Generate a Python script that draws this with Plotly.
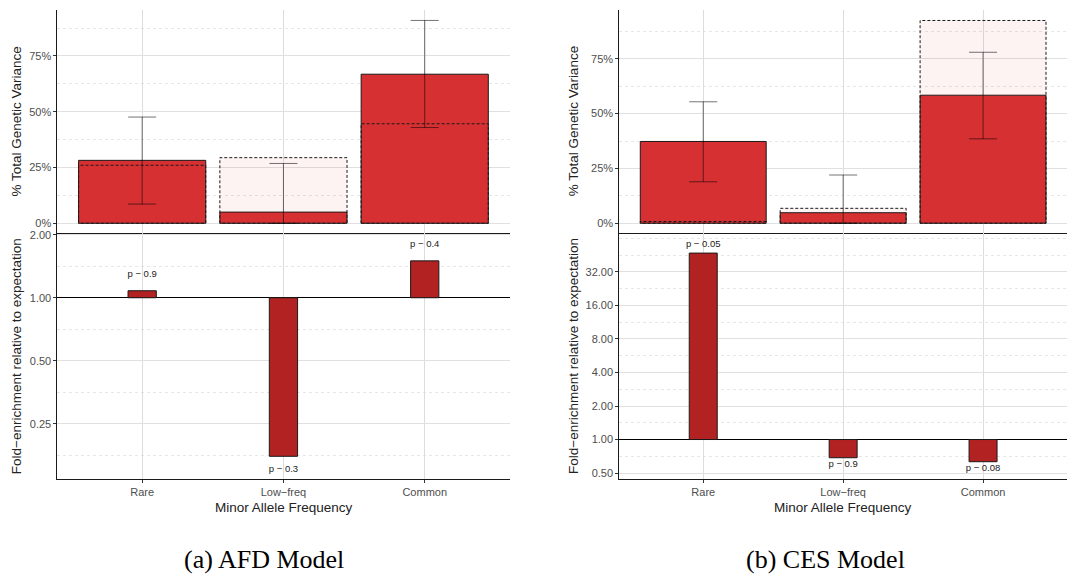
import numpy as np
import plotly.graph_objects as go

categories = ["Rare", "Low−freq", "Common"]

# AFD model: share of total genetic variance (%) per MAF bin
afd_observed = [28.2, 5.0, 66.8]
afd_expected = [26.0, 29.4, 44.6]
afd_ci_low = [8.6, 0.0, 42.9]
afd_ci_high = [47.6, 26.8, 90.9]
afd_fold = [1.08, 0.175, 1.50]
afd_pvals = ["p − 0.9", "p − 0.3", "p − 0.4"]

# CES model
ces_observed = [37.3, 4.8, 58.4]
ces_expected = [0.8, 6.8, 92.5]
ces_ci_low = [18.9, 0.0, 38.5]
ces_ci_high = [55.4, 22.0, 78.0]
ces_fold = [47.3, 0.686, 0.632]
ces_pvals = ["p − 0.05", "p − 0.9", "p − 0.08"]

fold_ticks_afd = [0.25, 0.5, 1, 2]
fold_ticks_ces = [0.5, 1, 2, 4, 8, 16, 32]

RED = "#D73032"
DARK_RED = "#B22222"
GRID = "#E0E0E0"
MINOR_GRID = "#E6E6E6"
TICK_FONT = dict(family="Liberation Sans, Arial, sans-serif", size=11, color="#4D4D4D")
TITLE_FONT = dict(family="Liberation Sans, Arial, sans-serif", size=13.5, color="#222222")
LABEL_FONT = dict(family="Liberation Sans, Arial, sans-serif", size=9.5, color="#222222")

W, H = 1067, 578
pos = np.arange(len(categories))

panels = [
    dict(obs=afd_observed, exp=afd_expected, lo=afd_ci_low, hi=afd_ci_high,
         fold=afd_fold, pv=afd_pvals, ticks=fold_ticks_afd,
         top=("x", "y"), bot=("x2", "y2"),
         xdom=[57.4 / W, 509.5 / W], yrange_top=[-4.5, 95.6],
         yrange_bot=[-2.877, 1.022]),
    dict(obs=ces_observed, exp=ces_expected, lo=ces_ci_low, hi=ces_ci_high,
         fold=ces_fold, pv=ces_pvals, ticks=fold_ticks_ces,
         top=("x3", "y3"), bot=("x4", "y4"),
         xdom=[619.3 / W, 1.0], yrange_top=[-4.6, 97.3],
         yrange_bot=[-1.183, 6.154]),
]

fig = go.Figure()

for p in panels:
    xt, yt = p["top"]
    xb, yb = p["bot"]

    # observed variance share
    fig.add_trace(go.Bar(
        x=pos, y=p["obs"], width=0.9, xaxis=xt, yaxis=yt,
        marker=dict(color=RED, line=dict(color="#1A1A1A", width=1)),
        showlegend=False, hoverinfo="skip"))

    # expected variance share: translucent box with a dashed outline
    for i, e in zip(pos, p["exp"]):
        fig.add_trace(go.Scatter(
            x=[i - 0.45, i - 0.45, i + 0.45, i + 0.45, i - 0.45],
            y=[0, e, e, 0, 0], xaxis=xt, yaxis=yt, mode="lines",
            fill="toself", fillcolor="rgba(215,48,50,0.06)",
            line=dict(color="#1A1A1A", width=1, dash="3px,2px"),
            showlegend=False, hoverinfo="skip"))

    # confidence interval on the observed share
    obs = np.array(p["obs"])
    fig.add_trace(go.Scatter(
        x=pos, y=obs, xaxis=xt, yaxis=yt, mode="markers",
        marker=dict(size=1, color="rgba(0,0,0,0)"),
        error_y=dict(type="data", symmetric=False,
                     array=np.array(p["hi"]) - obs,
                     arrayminus=obs - np.array(p["lo"]),
                     color="rgba(0,0,0,0.55)", thickness=1, width=14),
        showlegend=False, hoverinfo="skip"))

    # fold enrichment on a log2 scale, bars grow from 1
    lf = np.log2(p["fold"])
    fig.add_trace(go.Bar(
        x=pos, y=lf, width=0.2, xaxis=xb, yaxis=yb,
        marker=dict(color=DARK_RED, line=dict(color="#1A1A1A", width=1)),
        showlegend=False, hoverinfo="skip"))
    label_y = np.where(lf >= 0, lf + 0.25, lf - 0.21)
    fig.add_trace(go.Scatter(
        x=pos, y=label_y, xaxis=xb, yaxis=yb, mode="text",
        text=p["pv"], textposition="middle center", textfont=LABEL_FONT,
        showlegend=False, hoverinfo="skip"))

y_top_dom = [1 - 230.3 / H, 1 - 5 / H]
y_bot_dom = [1 - 478.3 / H, 1 - 230.3 / H]

common_x = dict(range=[-0.6, 2.6], tickmode="array", tickvals=list(pos),
                showgrid=True, gridcolor="#DCDCDC", gridwidth=1, zeroline=False,
                showline=True, linecolor="#1A1A1A", linewidth=1)
common_y = dict(showgrid=True, gridcolor=GRID, gridwidth=1,
                showline=True, linecolor="#1A1A1A", linewidth=1,
                ticks="outside", ticklen=3, tickcolor="#333333", tickwidth=1,
                tickfont=TICK_FONT)

layout_axes = {}
for n, p in enumerate(panels):
    xt_name = "xaxis" if n == 0 else "xaxis3"
    xb_name = "xaxis2" if n == 0 else "xaxis4"
    yt_name = "yaxis" if n == 0 else "yaxis3"
    yb_name = "yaxis2" if n == 0 else "yaxis4"
    xt_id = p["top"][0]
    xb_id = p["bot"][0]
    yt_id = p["top"][1]
    yb_id = p["bot"][1]

    layout_axes[xt_name] = dict(common_x, domain=p["xdom"], anchor=yt_id,
                                ticktext=categories, showticklabels=False, ticks="")
    layout_axes[xb_name] = dict(common_x, domain=p["xdom"], anchor=yb_id,
                                ticktext=categories, ticks="outside", ticklen=3,
                                tickcolor="#333333", tickfont=TICK_FONT)
    layout_axes[yt_name] = dict(common_y, domain=y_top_dom, anchor=xt_id,
                                range=p["yrange_top"], tickmode="linear", tick0=0,
                                dtick=25, ticksuffix="%", zeroline=False,
                                minor=dict(tickmode="linear", tick0=0, dtick=12.5,
                                           showgrid=True, gridcolor=MINOR_GRID,
                                           griddash="dot", gridwidth=1, ticks=""))
    layout_axes[yb_name] = dict(common_y, domain=y_bot_dom, anchor=xb_id,
                                range=p["yrange_bot"], tickmode="array",
                                tickvals=list(np.log2(p["ticks"])),
                                ticktext=[f"{t:.2f}" for t in p["ticks"]],
                                zeroline=True, zerolinecolor="#000000", zerolinewidth=1,
                                minor=dict(tickmode="linear", tick0=0, dtick=0.5,
                                           showgrid=True, gridcolor=MINOR_GRID,
                                           griddash="dot", gridwidth=1, ticks=""))

annotations = []
for xc_px, xmid_px in [(16, 283.5), (573.7, 843)]:
    annotations.append(dict(text="% Total Genetic Variance", x=xc_px / W,
                            y=1 - 117.5 / H, xref="paper", yref="paper",
                            textangle=-90, showarrow=False, font=TITLE_FONT,
                            xanchor="center", yanchor="middle"))
    annotations.append(dict(text="Fold−enrichment relative to expectation",
                            x=xc_px / W, y=1 - 354.3 / H, xref="paper", yref="paper",
                            textangle=-90, showarrow=False, font=TITLE_FONT,
                            xanchor="center", yanchor="middle"))
    annotations.append(dict(text="Minor Allele Frequency", x=xmid_px / W,
                            y=1 - 506.7 / H, xref="paper", yref="paper",
                            showarrow=False, font=TITLE_FONT,
                            xanchor="center", yanchor="middle"))

caption_font = dict(family="Liberation Serif, serif", size=26, color="#000000")
annotations.append(dict(text="(a) AFD Model", x=264 / W, y=1 - 559 / H,
                        xref="paper", yref="paper", showarrow=False,
                        font=caption_font, xanchor="center", yanchor="middle"))
annotations.append(dict(text="(b) CES Model", x=825 / W, y=1 - 559 / H,
                        xref="paper", yref="paper", showarrow=False,
                        font=caption_font, xanchor="center", yanchor="middle"))

fig.update_layout(
    width=W, height=H, margin=dict(l=0, r=0, t=0, b=0),
    paper_bgcolor="white", plot_bgcolor="white",
    barmode="overlay", showlegend=False,
    annotations=annotations,
    **layout_axes,
)

fig.write_html("out.html")
